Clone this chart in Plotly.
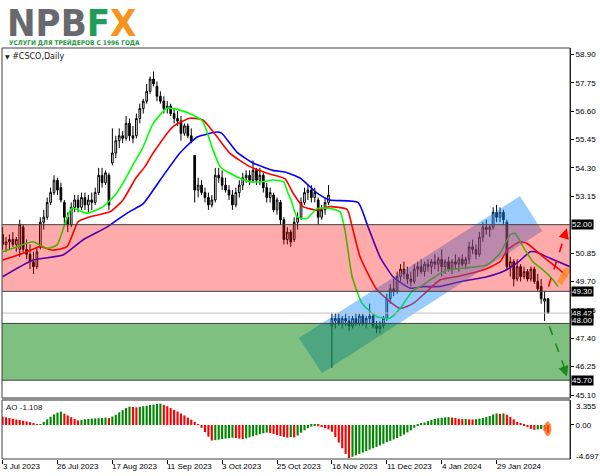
import plotly.graph_objects as go

# ---------------- data ----------------
bars = list(range(160))
opens = [51.6, 51.2, 51.3, 51.4, 51.2, 51.0, 51.9, 51.0, 50.8, 50.5,
         50.3, 51.1, 52.1, 52.3, 52.9, 53.3, 53.8, 53.5, 52.9, 52.3,
         52.0, 52.7, 53.0, 52.7, 53.1, 52.8, 53.0, 52.9, 53.3, 54.0,
         53.7, 54.0, 54.5, 54.9, 55.4, 55.6, 55.5, 56.1, 55.6, 55.6,
         56.3, 56.7, 57.0, 57.4, 57.9, 57.6, 57.2, 57.0, 56.7, 56.8,
         56.5, 56.3, 56.2, 55.7, 56.0, 55.6, 54.8, 53.4, 53.6, 53.3,
         53.1, 52.8, 53.0, 54.0, 53.9, 53.6, 53.4, 53.2, 52.8, 53.3,
         53.6, 53.9, 54.0, 53.8, 54.2, 53.8, 54.0, 53.5, 53.1, 53.2,
         52.6, 52.9, 52.2, 51.4, 51.7, 51.4, 52.1, 52.3, 52.9, 53.3,
         53.4, 53.1, 53.0, 52.3, 52.6, 52.9, 47.9, 48.1, 48.2, 48.0,
         48.2, 48.1, 47.9, 48.2, 48.0, 48.3, 48.0, 48.2, 48.3, 47.9,
         47.8, 47.9, 48.2, 49.0, 49.4, 49.3, 49.9, 50.2, 50.0, 49.8,
         49.7, 50.2, 50.3, 50.1, 50.4, 50.3, 50.5, 50.4, 50.6, 50.3,
         50.5, 50.2, 50.5, 50.4, 50.6, 50.4, 50.6, 51.1, 51.0, 50.8,
         51.5, 51.9, 51.8, 51.9, 52.5, 52.3, 52.5, 52.1, 50.3, 50.5,
         49.8, 50.3, 49.9, 50.1, 49.8, 50.2, 49.7, 49.5, 48.9, 49.0]
highs = [51.9, 51.5, 51.6, 51.7, 51.5, 52.2, 52.0, 51.4, 51.2, 50.9,
         51.1, 52.3, 52.6, 53.1, 53.5, 54.0, 53.9, 53.7, 53.0, 52.5,
         52.9, 53.2, 53.2, 53.3, 53.3, 53.2, 53.3, 53.5, 54.3, 54.3,
         54.2, 54.1, 55.9, 55.6, 55.9, 55.8, 56.4, 56.3, 56.0, 56.5,
         56.9, 57.1, 57.7, 58.0, 58.2, 57.8, 57.4, 57.2, 57.0, 56.9,
         56.7, 56.6, 56.4, 56.1, 56.1, 55.9, 54.8, 53.9, 53.8, 53.5,
         53.3, 53.2, 54.3, 54.3, 54.2, 53.9, 53.6, 53.4, 53.5, 53.8,
         54.1, 54.2, 54.2, 54.6, 54.3, 54.3, 54.1, 53.7, 53.5, 53.3,
         53.1, 53.0, 52.3, 51.9, 51.8, 52.3, 52.5, 53.1, 53.5, 53.6,
         53.6, 53.5, 53.1, 52.8, 53.1, 53.6, 48.4, 48.4, 48.4, 48.3,
         48.4, 48.3, 48.3, 48.4, 48.4, 48.4, 48.3, 48.8, 48.4, 48.1,
         48.1, 48.3, 49.2, 49.6, 49.8, 50.1, 50.4, 50.5, 50.3, 50.1,
         50.4, 50.5, 50.6, 50.5, 50.6, 50.6, 50.8, 50.7, 51.0, 50.6,
         50.7, 50.6, 50.8, 50.7, 50.8, 50.7, 51.3, 51.4, 51.2, 51.7,
         52.1, 52.2, 52.0, 52.7, 52.8, 52.7, 52.6, 52.2, 50.7, 50.6,
         50.6, 50.4, 50.3, 50.2, 50.3, 50.3, 50.0, 49.8, 49.3, 49.0]
lows = [51.0, 50.9, 51.0, 51.1, 50.9, 50.7, 50.9, 50.6, 50.2, 50.0,
        50.2, 51.0, 51.8, 52.2, 52.8, 53.2, 53.2, 52.9, 52.0, 51.7,
        51.9, 52.5, 52.5, 52.6, 52.6, 52.5, 52.6, 52.8, 53.2, 53.5,
        53.6, 52.6, 54.4, 54.7, 55.1, 55.3, 55.4, 55.4, 55.3, 55.5,
        56.1, 56.5, 56.9, 57.3, 57.6, 57.0, 56.9, 56.5, 56.5, 56.4,
        56.1, 56.0, 55.4, 55.6, 55.5, 55.3, 52.9, 53.1, 53.2, 52.9,
        52.6, 52.7, 52.9, 53.7, 53.4, 53.3, 53.0, 52.6, 52.7, 53.1,
        53.4, 53.7, 53.6, 53.7, 53.6, 53.6, 53.3, 52.9, 52.9, 52.5,
        52.4, 52.0, 51.2, 51.2, 51.1, 51.3, 51.8, 52.2, 52.8, 53.0,
        52.9, 52.9, 52.0, 52.2, 52.4, 52.8, 46.2, 47.8, 47.9, 47.8,
        47.9, 47.7, 47.8, 47.9, 47.9, 47.9, 47.8, 48.0, 47.8, 47.6,
        47.6, 47.8, 48.1, 48.8, 49.1, 49.2, 49.7, 49.8, 49.6, 49.5,
        49.6, 49.9, 50.0, 49.9, 50.1, 50.0, 50.2, 50.1, 49.9, 50.0,
        50.1, 50.0, 50.2, 50.1, 50.3, 50.2, 50.4, 50.8, 50.6, 50.7,
        51.3, 51.6, 51.5, 51.8, 52.1, 52.1, 52.0, 50.2, 49.9, 49.5,
        49.7, 49.7, 49.8, 49.7, 49.7, 49.6, 49.3, 48.8, 48.1, 48.4]
closes = [51.2, 51.3, 51.4, 51.2, 51.4, 52.0, 51.0, 50.8, 50.5, 50.3,
          50.9, 52.1, 52.3, 52.9, 53.3, 53.8, 53.4, 53.0, 52.3, 52.0,
          52.7, 53.0, 52.7, 53.1, 52.8, 53.0, 52.9, 53.3, 54.0, 53.7,
          54.1, 52.8, 54.9, 55.4, 55.6, 55.5, 56.1, 55.6, 55.5, 56.3,
          56.7, 57.0, 57.4, 57.9, 57.7, 57.2, 57.0, 56.7, 56.8, 56.5,
          56.3, 56.2, 55.7, 56.0, 55.6, 55.4, 53.4, 53.6, 53.3, 53.1,
          52.8, 53.0, 54.0, 53.9, 53.6, 53.4, 53.2, 52.8, 53.3, 53.6,
          53.9, 54.0, 53.8, 54.2, 53.8, 54.0, 53.5, 53.1, 53.3, 52.6,
          53.0, 52.2, 51.4, 51.7, 51.3, 52.1, 52.3, 52.9, 53.3, 53.4,
          53.1, 53.3, 52.3, 52.6, 52.9, 53.2, 48.2, 48.2, 48.0, 48.2,
          48.1, 47.9, 48.2, 48.0, 48.3, 48.0, 48.2, 48.3, 47.9, 47.8,
          47.9, 48.2, 49.0, 49.4, 49.3, 49.9, 50.2, 50.0, 49.8, 49.7,
          50.2, 50.3, 50.1, 50.4, 50.3, 50.5, 50.4, 50.6, 50.3, 50.5,
          50.2, 50.5, 50.4, 50.6, 50.4, 50.6, 51.1, 51.0, 50.8, 51.5,
          51.9, 51.8, 51.9, 52.5, 52.3, 52.5, 52.2, 50.3, 50.5, 49.8,
          50.3, 49.9, 50.1, 49.8, 50.2, 49.7, 49.4, 49.0, 49.0, 48.42]

# Alligator lines (sampled along the drawn curves)
jaw_x = [0, 8.9, 17.6, 23.4, 30.4, 36.3, 41.0, 45.9, 51.7, 56.7, 62.5, 63.9, 68.3, 73.0,
         78.8, 82.3, 86.7, 91.7, 95.4, 103.6, 106.5, 110.0, 113.8, 118.8, 122.6, 127.5,
         133.3, 141.2, 145.9, 150.0, 153.8, 155.2, 159.6, 165.4]
jaw_y = [49.89, 50.57, 50.77, 51.38, 51.90, 52.47, 52.85, 53.80, 54.90, 55.55, 55.75, 55.70,
         54.94, 54.50, 54.20, 54.13, 53.89, 53.28, 53.00, 52.90, 51.92, 50.70, 49.89, 49.43,
         49.49, 49.50, 49.69, 49.89, 50.10, 50.45, 50.90, 50.90, 50.64, 50.30]
teeth_x = [0, 3.0, 7.1, 10.9, 14.7, 18.8, 22.0, 25.5, 31.3, 35.1, 38.9, 41.5, 43.9, 49.7,
           54.6, 58.4, 62.5, 66.3, 72.1, 77.1, 82.3, 84.7, 87.6, 91.7, 95.4, 100.4, 101.9,
           104.2, 109.2, 115.9, 119.7, 123.1, 127.5, 133.3, 140.0, 145.0, 147.1, 150.8,
           152.9, 157.6, 162.5, 164.5]
teeth_y = [50.57, 50.70, 50.90, 51.11, 50.97, 51.11, 52.12, 52.32, 52.52, 53.00, 53.90,
           54.35, 54.90, 55.97, 56.31, 56.24, 55.56, 54.89, 54.35, 54.08, 53.86, 53.27,
           52.73, 52.59, 52.73, 52.62, 51.92, 50.70, 49.35, 48.61, 48.81, 49.22, 49.76,
           49.92, 50.16, 50.50, 50.97, 51.31, 51.24, 50.70, 50.16, 49.89]
lips_x = [0, 4.2, 8.9, 12.9, 15.9, 18.2, 20.2, 24.6, 29.3, 32.8, 35.1, 38.0, 40.8, 43.9,
          47.9, 51.7, 55.5, 58.4, 61.0, 63.4, 66.3, 69.2, 72.1, 75.9, 78.8, 81.9, 83.2,
          84.1, 85.8, 88.7, 91.7, 95.4, 98.4, 99.8, 101.9, 104.8, 109.2, 112.9, 115.9,
          119.7, 122.5, 124.6, 129.6, 136.3, 141.2, 145.0, 147.9, 149.4, 151.7, 154.6,
          157.6, 160.5, 161.9]
lips_y = [50.90, 51.11, 51.31, 51.04, 51.18, 52.05, 52.67, 52.46, 52.73, 53.20, 53.68,
          54.42, 55.10, 56.10, 56.71, 56.64, 56.44, 56.17, 55.16, 54.35, 54.08, 53.88,
          53.74, 53.74, 53.81, 53.74, 53.27, 53.00, 52.32, 52.25, 52.66, 52.66, 52.52,
          51.78, 49.89, 48.81, 48.27, 48.21, 48.61, 49.35, 49.55, 49.76, 50.16, 50.27,
          50.37, 50.84, 51.58, 51.65, 51.11, 50.50, 50.16, 49.76, 49.49]

# Awesome Oscillator values
ao = [1.18, 1.08, 0.98, 0.88, 0.78, 0.70, 0.60, 0.50, 0.40, 0.22,
      0.10, 0.14, 0.45, 0.80, 1.18, 1.50, 1.75, 1.90, 1.60, 1.35,
      1.10, 0.85, 0.65, 0.72, 0.80, 0.86, 0.90, 0.93, 0.96, 1.00,
      1.04, 0.98, 1.20, 1.45, 1.80, 2.10, 2.40, 2.60, 2.55, 2.50,
      2.58, 2.66, 2.74, 2.82, 2.90, 2.96, 3.02, 2.85, 2.65, 2.40,
      2.15, 1.90, 1.62, 1.35, 1.05, 0.75, 0.45, 0.12, -0.40, -1.00,
      -1.65, -2.20, -2.15, -2.08, -2.00, -1.93, -1.87, -1.80, -1.86, -1.93,
      -2.00, -1.90, -1.75, -1.60, -1.45, -1.30, -1.18, -1.08, -1.15, -1.28,
      -1.42, -1.56, -1.70, -1.80, -1.72, -1.76, -1.50, -1.10, -0.75, -0.45,
      -0.22, -0.10, -0.18, -0.30, -0.45, -0.62, -0.95, -1.70, -2.50, -3.30,
      -4.10, -4.70, -4.50, -4.30, -4.10, -3.90, -3.70, -3.50, -3.30, -3.10,
      -2.90, -2.65, -2.45, -2.25, -2.05, -1.85, -1.60, -1.35, -1.05, -0.75,
      -0.40, -0.10, 0.15, 0.35, 0.55, 0.72, 0.85, 0.95, 1.02, 1.08,
      1.12, 1.05, 0.98, 0.88, 0.83, 0.86, 0.80, 0.78, 0.82, 0.90,
      1.00, 1.12, 1.28, 1.50, 1.62, 1.58, 1.63, 1.45, 1.15, 0.80,
      0.45, 0.15, -0.05, -0.30, -0.55, -0.68, -0.62, -0.58, -0.80, -1.108]

date_labels = ["3 Jul 2023", "26 Jul 2023", "17 Aug 2023", "11 Sep 2023", "3 Oct 2023",
               "25 Oct 2023", "16 Nov 2023", "11 Dec 2023", "4 Jan 2024", "29 Jan 2024"]
date_label_bars = [0, 16, 32, 48, 64, 80, 96, 112, 128, 144]

price_ticks = [58.90, 57.75, 56.60, 55.45, 54.30, 53.15, 50.85, 49.70, 48.55,
               47.40, 46.25, 45.10]
level_labels = [52.00, 49.30, 48.42, 48.00, 45.70]

# ---------------- figure ----------------
FONT = "Liberation Sans, Arial, sans-serif"
MAIN_DOM = [(459 - 398) / 411, 1.0]
AO_DOM = [0.0, (459 - 400) / 411]

fig = go.Figure()

fig.add_trace(go.Candlestick(
    x=bars, open=opens, high=highs, low=lows, close=closes,
    increasing=dict(line=dict(color="black", width=1), fillcolor="white"),
    decreasing=dict(line=dict(color="black", width=1), fillcolor="black"),
    whiskerwidth=0, hoverinfo="skip", xaxis="x", yaxis="y"))

for xs, ys, col in [(jaw_x, jaw_y, "#0000ff"), (teeth_x, teeth_y, "#ff0000"),
                    (lips_x, lips_y, "#00ff00")]:
    fig.add_trace(go.Scatter(x=xs, y=ys, mode="lines", hoverinfo="skip",
                             line=dict(color=col, width=1.6, shape="spline", smoothing=0.5),
                             xaxis="x", yaxis="y"))

ao_colors = ["#ff0000"] + ["#008800" if ao[i] > ao[i - 1] else "#ff0000" for i in range(1, len(ao))]
fig.add_trace(go.Bar(x=bars, y=ao, marker=dict(color=ao_colors, line=dict(width=0)),
                     width=0.62, hoverinfo="skip", xaxis="x2", yaxis="y2"))

shapes = []
# light-blue channel
shapes.append(dict(type="path", xref="x", yref="y", layer="above",
                   path="M 86.4,47.41 L 93.1,45.99 L 157.3,51.74 L 150.8,53.16 Z",
                   fillcolor="rgba(30,144,255,0.45)", line=dict(width=0)))
# resistance / support zones
shapes.append(dict(type="rect", xref="paper", yref="y", x0=0, x1=1, y0=49.30, y1=52.00,
                   fillcolor="rgba(255,0,0,0.33)", line=dict(width=0), layer="above"))
shapes.append(dict(type="rect", xref="paper", yref="y", x0=0, x1=1, y0=45.70, y1=48.00,
                   fillcolor="rgba(0,128,0,0.5)", line=dict(width=0), layer="above"))
for lv in [52.00, 49.30, 48.00, 45.70]:
    shapes.append(dict(type="line", xref="paper", yref="y", x0=0, x1=1, y0=lv, y1=lv,
                       line=dict(color="#404040", width=1), layer="above"))
shapes.append(dict(type="line", xref="paper", yref="y", x0=0, x1=1, y0=48.42, y1=48.42,
                   line=dict(color="#c0c0c0", width=1), layer="above"))
# orange highlight at line ends
shapes.append(dict(type="line", xref="x", yref="y", x0=162.3, y0=49.62, x1=164.9, y1=50.22,
                   line=dict(color="rgba(255,140,40,0.85)", width=6), layer="above"))
# dashed forecast arrows
shapes.append(dict(type="line", xref="x", yref="y", x0=159.1, y0=49.49, x1=164.2, y1=51.70,
                   line=dict(color="#ff0000", width=1.6, dash="dash"), layer="above"))
shapes.append(dict(type="line", xref="x", yref="y", x0=159.4, y0=47.87, x1=164.2, y1=46.05,
                   line=dict(color="#1a8a1a", width=1.6, dash="dash"), layer="above"))
# AO highlight
shapes.append(dict(type="circle", xref="x2", yref="y2", x0=157.9, x1=159.9, y0=-1.55, y1=0.45,
                   fillcolor="rgba(255,90,0,0.75)", line=dict(color="rgba(255,150,60,0.6)", width=1),
                   layer="above"))
# panel frames and separator
shapes.append(dict(type="rect", xref="paper", yref="paper", x0=0, x1=1, y0=MAIN_DOM[0], y1=1,
                   line=dict(color="#404040", width=1), layer="above"))
shapes.append(dict(type="rect", xref="paper", yref="paper", x0=0, x1=1, y0=0, y1=AO_DOM[1],
                   line=dict(color="#404040", width=1), layer="above"))
shapes.append(dict(type="line", xref="paper", yref="paper", x0=0, x1=1,
                   y0=(MAIN_DOM[0] + AO_DOM[1]) / 2, y1=(MAIN_DOM[0] + AO_DOM[1]) / 2,
                   line=dict(color="#8c8c8c", width=3), layer="above"))

ann = []
LOGO_FONT = "Liberation Sans Narrow, DejaVu Sans Condensed, Liberation Sans"
# logo
ann.append(dict(xref="paper", yref="paper", x=0.006, y=(459 - 23) / 411, xanchor="left",
                yanchor="middle", showarrow=False,
                text="<b>NPB<span style='color:#1f9e5a'>F</span><span style='color:#f7941d'>X</span></b>",
                font=dict(family=LOGO_FONT, size=38, color="#68696c")))
ann.append(dict(xref="paper", yref="paper", x=0.008, y=(459 - 42) / 411, xanchor="left",
                yanchor="middle", showarrow=False, text="<b>УСЛУГИ ДЛЯ ТРЕЙДЕРОВ С 1996 ГОДА</b>",
                font=dict(family=LOGO_FONT, size=6.5, color="#2b9a48")))
# chart title
ann.append(dict(xref="paper", yref="paper", x=0.001, y=(459 - 57) / 411, xanchor="left",
                yanchor="middle", showarrow=False,
                text="<span style='font-size:6px'>▼</span> #CSCO,Daily",
                font=dict(family="DejaVu Sans", size=8, color="#202020")))
# AO label
ann.append(dict(xref="paper", yref="paper", x=0.003, y=(459 - 407) / 411, xanchor="left",
                yanchor="middle", showarrow=False, text="AO -1.108",
                font=dict(family=FONT, size=8, color="#202020")))
# date labels
for b, lab in zip(date_label_bars, date_labels):
    ann.append(dict(xref="x2", yref="paper", x=b, y=0, xanchor="left", yanchor="top",
                    yshift=-1, xshift=-2, showarrow=False, text=lab,
                    font=dict(family=FONT, size=8, color="black")))
# price level boxes
for lv in level_labels:
    ys = 3 if abs(lv - 48.00) < 1e-9 else 0
    ann.append(dict(xref="paper", yref="y", x=1, y=lv, xanchor="left", yanchor="middle",
                    xshift=1, yshift=ys, showarrow=False, text="%.2f" % lv, bgcolor="black",
                    borderpad=0, font=dict(family=FONT, size=8, color="white")))
# AO scale extremes
ann.append(dict(xref="paper", yref="y2", x=1, y=3.355, xanchor="left", yanchor="middle",
                xshift=4, yshift=-5, showarrow=False, text="3.355",
                font=dict(family=FONT, size=8, color="black")))
ann.append(dict(xref="paper", yref="y2", x=1, y=-4.697, xanchor="left", yanchor="middle",
                xshift=4, yshift=2, showarrow=False, text="-4.697",
                font=dict(family=FONT, size=8, color="black")))
# arrow heads
ann.append(dict(xref="x", yref="y", x=164.5, y=51.85, ax=-2.1, ay=6.7, axref="pixel",
                ayref="pixel", text="", showarrow=True, arrowhead=2, arrowsize=1.3,
                arrowwidth=1.6, arrowcolor="#ff0000", standoff=0))
ann.append(dict(xref="x", yref="y", x=164.5, y=45.85, ax=-2.4, ay=-6.6, axref="pixel",
                ayref="pixel", text="", showarrow=True, arrowhead=2, arrowsize=1.3,
                arrowwidth=1.6, arrowcolor="#1a8a1a", standoff=0))

fig.update_layout(
    width=600, height=476,
    margin=dict(l=2, r=30, t=48, b=17),
    paper_bgcolor="white", plot_bgcolor="white",
    showlegend=False,
    xaxis=dict(domain=[0, 1], range=[-0.17, 165.4], anchor="y", showticklabels=False,
               showgrid=False, zeroline=False, rangeslider=dict(visible=False), ticks=""),
    xaxis2=dict(domain=[0, 1], range=[-0.17, 165.4], anchor="y2", matches="x",
                showticklabels=False, showgrid=False, zeroline=False,
                tickvals=date_label_bars, ticks="outside", ticklen=4, tickcolor="black"),
    yaxis=dict(domain=MAIN_DOM, range=[44.98, 59.155], side="right", anchor="x",
               tickvals=price_ticks, ticktext=["%.2f" % v for v in price_ticks],
               ticks="outside", ticklen=3, tickcolor="black", showgrid=False, zeroline=False,
               showline=True, linecolor="black", tickfont=dict(family=FONT, size=8, color="black")),
    yaxis2=dict(domain=AO_DOM, range=[-4.82, 3.54], side="right", anchor="x2",
                tickvals=[0], ticktext=["0.00"], ticks="outside", ticklen=3, tickcolor="black",
                showgrid=False, zeroline=False, showline=True, linecolor="black",
                tickfont=dict(family=FONT, size=8, color="black")),
    shapes=shapes, annotations=ann,
)

fig.write_html("out.html", config={"displayModeBar": False},
               post_script="document.body.style.margin='0';document.body.style.padding='0';")
